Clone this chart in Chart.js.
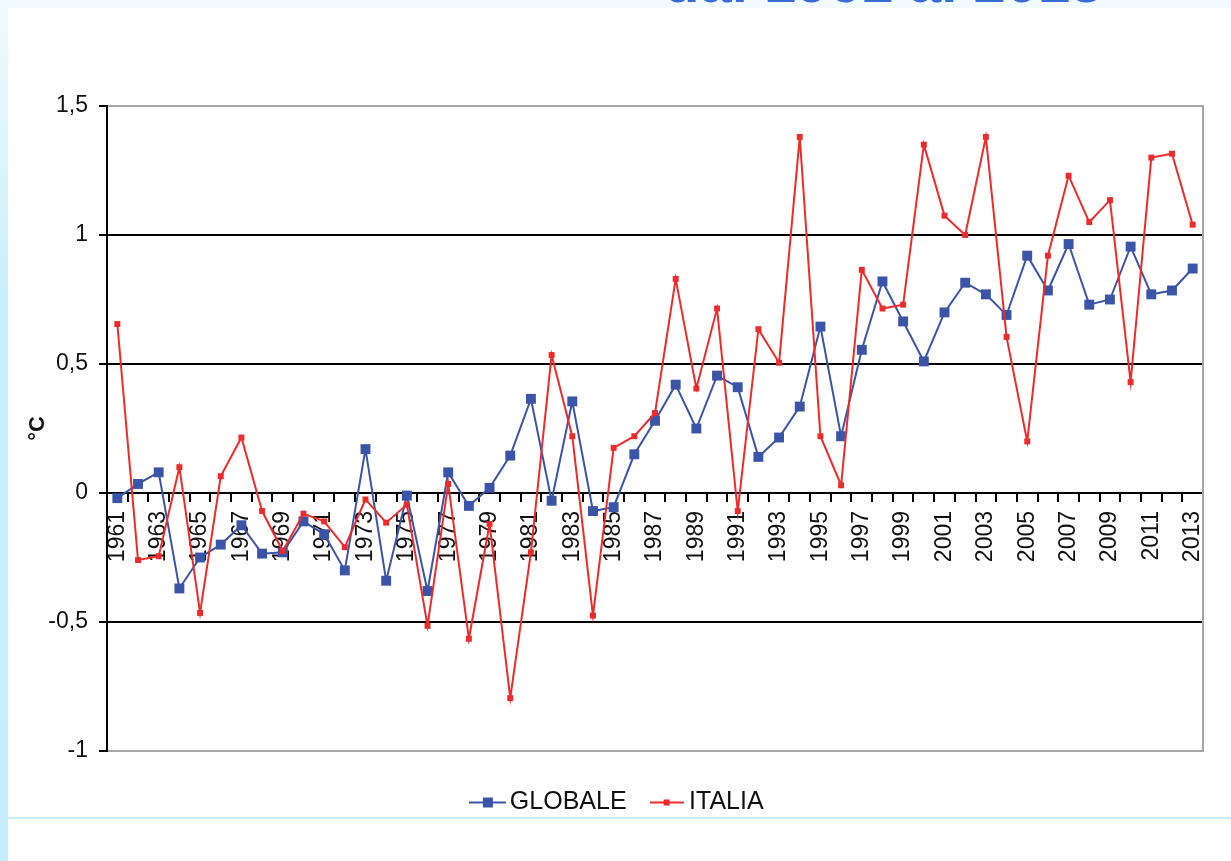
<!DOCTYPE html>
<html>
<head>
<meta charset="utf-8">
<script src="https://cdn.jsdelivr.net/npm/chart.js@4.4.0/dist/chart.umd.min.js"></script>
<style>
html,body{margin:0;padding:0;width:1231px;height:861px;overflow:hidden;background:#fff;font-family:"Liberation Sans",Arial,sans-serif;}
#topband{position:absolute;left:0;top:0;width:1231px;height:8px;background:#f2fbff;overflow:hidden;z-index:1;}
#title{position:absolute;left:664px;top:-47px;font:bold 58px/58px "Liberation Sans",Arial,sans-serif;color:#3b6cd6;white-space:nowrap;}
#leftband{position:absolute;left:0;top:0;width:8px;height:861px;background:linear-gradient(#f0fbff 0%,#c9eefc 35%,#c7edfc 100%);z-index:1;}
#hline{position:absolute;left:8px;top:817px;width:1223px;height:2px;background:#c6ecfb;z-index:2;}
#wrap{position:absolute;left:8px;top:8px;width:1223px;height:853px;}
</style>
</head>
<body>
<div id="topband"><div id="title">dal 1961 al 2013</div></div>
<div id="leftband"></div>
<div id="hline"></div>
<div id="wrap"><canvas id="c" width="1223" height="853"></canvas></div>
<script>
const years = ['1961','1962','1963','1964','1965','1966','1967','1968','1969','1970',
  '1971','1972','1973','1974','1975','1976','1977','1978','1979','1980',
  '1981','1982','1983','1984','1985','1986','1987','1988','1989','1990',
  '1991','1992','1993','1994','1995','1996','1997','1998','1999','2000',
  '2001','2002','2003','2004','2005','2006','2007','2008','2009','2010',
  '2011','2012','2013'];

const globale = [-0.02, 0.035, 0.08, -0.37, -0.25, -0.2, -0.125, -0.235, -0.23, -0.11,
  -0.16, -0.30, 0.17, -0.34, -0.01, -0.38, 0.08, -0.05, 0.02, 0.145,
  0.365, -0.03, 0.355, -0.07, -0.055, 0.15, 0.28, 0.42, 0.25, 0.455,
  0.41, 0.14, 0.215, 0.335, 0.645, 0.22, 0.555, 0.82, 0.665, 0.51,
  0.70, 0.815, 0.77, 0.69, 0.92, 0.785, 0.965, 0.73, 0.75, 0.955,
  0.77, 0.785, 0.87];

const italia = [0.655, -0.26, -0.245, 0.10, -0.465, 0.065, 0.215, -0.07, -0.225, -0.08,
  -0.11, -0.21, -0.025, -0.115, -0.045, -0.515, 0.035, -0.565, -0.12, -0.795,
  -0.23, 0.535, 0.22, -0.475, 0.175, 0.22, 0.31, 0.83, 0.405, 0.715,
  -0.07, 0.635, 0.505, 1.38, 0.22, 0.03, 0.865, 0.715, 0.73, 1.35,
  1.075, 1.0, 1.38, 0.605, 0.20, 0.92, 1.23, 1.05, 1.135, 0.43,
  1.30, 1.315, 1.04];

// x tick labels: every other year
const xTickLabels = years.map((y, i) => (i % 2 === 0 ? y : ''));
const yMin = -1, yMax = 1.5, yStep = 0.5;
const seriesNames = ['GLOBALE', 'ITALIA'];
const blue = '#3a54a8';
const red = '#ef2a2a';

function legendIcon(color, w, sq) {
  const c = document.createElement('canvas');
  c.width = w; c.height = 12;
  const g = c.getContext('2d');
  g.strokeStyle = color; g.lineWidth = 2;
  g.beginPath(); g.moveTo(0, 6); g.lineTo(w, 6); g.stroke();
  g.fillStyle = color;
  g.fillRect(Math.round(w / 2 - sq / 2), Math.round(6 - sq / 2), sq, sq);
  return c;
}
const icons = [legendIcon(blue, 37, 10), legendIcon(red, 34, 6)];

const rightBorder = {
  id: 'rightBorder',
  beforeDatasetsDraw(chart) {
    const a = chart.chartArea, ctx = chart.ctx;
    ctx.save();
    ctx.strokeStyle = '#a6a6a6'; ctx.lineWidth = 2;
    ctx.beginPath(); ctx.moveTo(a.right, a.top - 1); ctx.lineTo(a.right, a.bottom + 1); ctx.stroke();
    ctx.restore();
  }
};

const FONT = '"Liberation Sans", Arial, sans-serif';

new Chart(document.getElementById('c'), {
  type: 'line',
  data: {
    labels: years,
    datasets: [
      { label: seriesNames[0], data: globale, borderColor: blue, backgroundColor: blue,
        borderWidth: 2, pointStyle: 'rect', pointRadius: 7, pointBorderWidth: 0,
        tension: 0, order: 1, clip: false },
      { label: seriesNames[1], data: italia, borderColor: red, backgroundColor: red,
        borderWidth: 2, pointStyle: 'rect', pointRadius: 4.2, pointBorderWidth: 0,
        tension: 0, order: 0, clip: false }
    ]
  },
  options: {
    responsive: false,
    devicePixelRatio: 1,
    animation: false,
    layout: { padding: { left: 30, right: 28, top: 98, bottom: 36 } },
    scales: {
      x: {
        type: 'category',
        position: { y: 0 },
        offset: true,
        grid: { offset: true, drawOnChartArea: false, drawTicks: true, tickLength: 8,
                color: '#000', lineWidth: 2 },
        border: { display: true, color: '#000', width: 2 },
        ticks: {
          autoSkip: false, minRotation: 90, maxRotation: 90, padding: 10,
          color: '#111', font: { family: FONT, size: 23 },
          callback: (v, i) => xTickLabels[i]
        }
      },
      y: {
        min: yMin, max: yMax,
        afterFit: (s) => { s.width = 69; },
        grid: {
          drawTicks: true, tickLength: 8, lineWidth: 2, tickColor: '#000',
          color: (ctx) => (ctx.tick && (ctx.tick.value === yMax || ctx.tick.value === yMin)) ? '#a6a6a6' : '#000'
        },
        border: { display: true, color: '#000', width: 2 },
        ticks: {
          stepSize: yStep, padding: 11, color: '#111',
          font: { family: FONT, size: 23 },
          callback: (v) => String(v).replace('.', ',')
        },
        title: {
          display: true, text: '°C', color: '#111', padding: { top: -13, bottom: 0 },
          font: { family: FONT, size: 22, weight: 'bold' }
        }
      }
    },
    plugins: {
      tooltip: { enabled: false },
      legend: {
        position: 'bottom',
        title: { display: true, text: ' ', font: { size: 5 }, padding: { top: 0, bottom: 3 } },
        labels: {
          usePointStyle: true, pointStyleWidth: 20, padding: 30, color: '#111',
          font: { family: FONT, size: 25 },
          generateLabels: (chart) => {
            const items = Chart.defaults.plugins.legend.labels.generateLabels(chart);
            items.forEach(it => { it.pointStyle = icons[it.datasetIndex]; });
            return items;
          },
          sort: (a, b) => a.datasetIndex - b.datasetIndex
        }
      }
    }
  },
  plugins: [rightBorder]
});
</script>
</body>
</html>
